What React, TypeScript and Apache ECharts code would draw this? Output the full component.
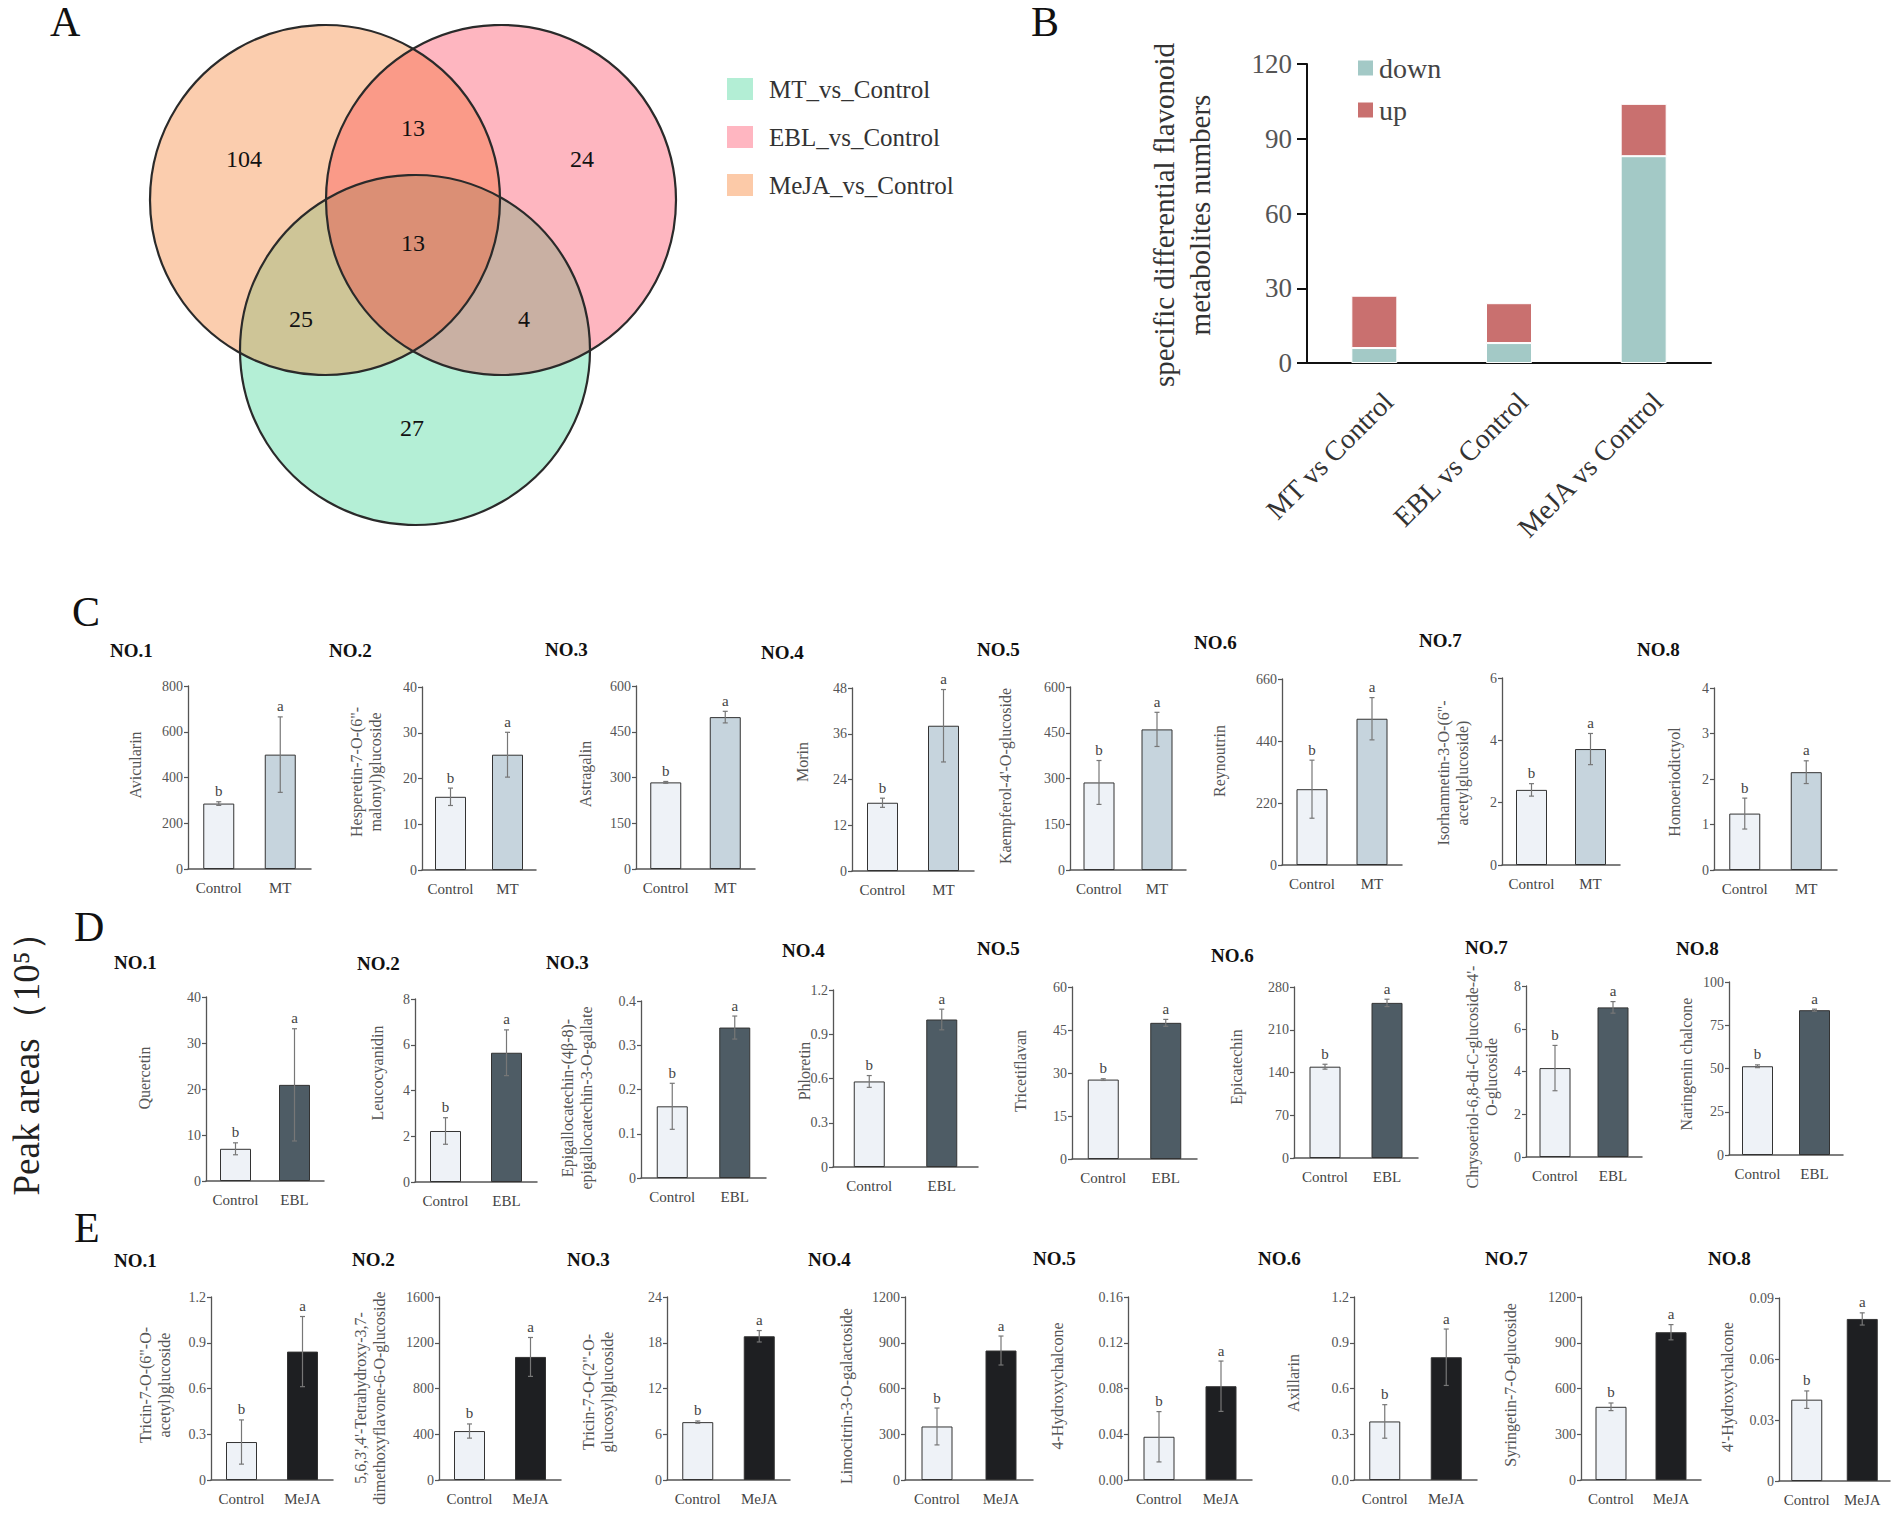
import React, { useEffect, useRef } from "react";
import * as echarts from "echarts";

// ---------------- Panel A : Venn ----------------
const vennLegendNames = ["MT_vs_Control", "EBL_vs_Control", "MeJA_vs_Control"];
const vennLegendColors = ["#b3eed5", "#ffb6c1", "#fccaa8"];
// MeJA only, EBL only, MT only, MeJA∩EBL, MeJA∩EBL∩MT, MeJA∩MT, EBL∩MT
const vennRegionCounts = ["104", "24", "27", "13", "13", "25", "4"];

// ---------------- Panel B ----------------
const bCategories = ["MT vs Control", "EBL vs Control", "MeJA vs Control"];
const bDown = [6, 8, 83];
const bUp = [21, 16, 21];
const bMax = 120;
const bInterval = 30;

// ---------------- Panels C, D, E ----------------
const sigLetters = ["b", "a"];

const C_names = ["Avicularin", "Hesperetin-7-O-(6\"-\nmalonyl)glucoside", "Astragalin", "Morin", "Kaempferol-4'-O-glucoside", "Reynoutrin", "Isorhamnetin-3-O-(6\"-\nacetylglucoside)", "Homoeriodictyol"];
const C_ctrl = [286, 16.0, 284, 17.9, 287, 269, 2.41, 1.24];
const C_ctrlErr = [8, 1.9, 3, 1.2, 72, 103, 0.2, 0.34];
const C_trt = [500, 25.2, 498, 38.1, 461, 519, 3.72, 2.15];
const C_trtErr = [165, 4.9, 19, 9.5, 56, 75, 0.5, 0.25];
const C_max = [800, 40, 600, 48, 600, 660, 6, 4];
const C_interval = [200, 10, 150, 12, 150, 220, 2, 1];
const C_dec = [-1, -1, -1, -1, -1, -1, -1, -1];

const D_names = ["Quercetin", "Leucocyanidin", "Epigallocatechin-(4β-8)-\nepigallocatechin-3-O-gallate", "Phloretin", "Tricetiflavan", "Epicatechin", "Chrysoeriol-6,8-di-C-glucoside-4'-\nO-glucoside", "Naringenin chalcone"];
const D_ctrl = [7.0, 2.23, 0.162, 0.58, 27.7, 149.5, 4.16, 51.3];
const D_ctrlErr = [1.3, 0.58, 0.052, 0.04, 0.3, 4, 1.06, 0.8];
const D_trt = [20.9, 5.65, 0.34, 1.0, 47.5, 254, 7.0, 83.7];
const D_trtErr = [12.2, 1.0, 0.026, 0.07, 1.2, 6, 0.27, 0.6];
const D_max = [40, 8, 0.4, 1.2, 60, 280, 8, 100];
const D_interval = [10, 2, 0.1, 0.3, 15, 70, 2, 25];
const D_dec = [-1, -1, -1, -1, -1, -1, -1, -1];

const E_names = ["Tricin-7-O-(6\"-O-\nacetyl)glucoside", "5,6,3',4'-Tetrahydroxy-3,7-\ndimethoxyflavone-6-O-glucoside", "Tricin-7-O-(2\"-O-\nglucosyl)glucoside", "Limocitrin-3-O-galactoside", "4-Hydroxychalcone", "Axillarin", "Syringetin-7-O-glucoside", "4'-Hydroxychalcone"];
const E_ctrl = [0.249, 428, 7.59, 351, 0.0378, 0.384, 480, 0.04];
const E_ctrlErr = [0.145, 62, 0.15, 121, 0.022, 0.11, 25, 0.0043];
const E_trt = [0.842, 1076, 18.85, 849, 0.082, 0.805, 969, 0.0797];
const E_trtErr = [0.23, 170, 0.75, 95, 0.022, 0.185, 50, 0.003];
const E_max = [1.2, 1600, 24, 1200, 0.16, 1.2, 1200, 0.09];
const E_interval = [0.3, 400, 6, 300, 0.04, 0.3, 300, 0.03];
const E_dec = [-1, -1, -1, -1, 2, 1, -1, -1];

// ---------------- Layout (pixels) ----------------
const FONT = "'Liberation Serif', 'Times New Roman', serif";
const VENN = [
  [325, 200, 175], // MeJA
  [501, 200, 175], // EBL
  [415, 350, 175], // MT
];
const vennSingleColors = ["#fbcdae", "#feb6c0", "#b4efd6"];
const vennLabelPos = [[244, 159], [582, 159], [412, 428], [413, 128], [413, 243], [301, 319], [524, 319]];

// [left(y-axis x), right, top(max tick y), zero y]
const C_grid = [[188, 311, 686, 869], [422, 536, 687, 870], [636, 755, 686, 869], [852, 974, 688, 871], [1070, 1186, 687, 870], [1282, 1402, 679, 865], [1502, 1620, 678, 865], [1714, 1837, 688, 870]];
const D_grid = [[206, 324, 997, 1181], [415, 537, 999, 1182], [641, 766, 1001, 1178], [833, 978, 990, 1167], [1072, 1197, 987, 1159], [1294, 1418, 987, 1158], [1526, 1642, 986, 1157], [1729, 1843, 982, 1155]];
const E_grid = [[211, 333, 1297, 1480], [439, 561, 1297, 1480], [667, 790, 1297, 1480], [905, 1033, 1297, 1480], [1128, 1252, 1297, 1480], [1354, 1477, 1297, 1480], [1581, 1701, 1297, 1480], [1779, 1890, 1298, 1481]];
const C_no = [[110, 650], [329, 650], [545, 649], [761, 652], [977, 649], [1194, 642], [1419, 640], [1637, 649]];
const D_no = [[114, 962], [357, 963], [546, 962], [782, 950], [977, 948], [1211, 955], [1465, 947], [1676, 948]];
const E_no = [[114, 1260], [352, 1259], [567, 1259], [808, 1259], [1033, 1258], [1258, 1258], [1485, 1258], [1708, 1258]];
const C_lab = [[135, 765], [366, 772], [585, 774], [802, 762], [1005, 776], [1219, 761], [1453, 773], [1674, 782]];
const D_lab = [[144, 1078], [377, 1073], [577, 1098], [804, 1071], [1020, 1071], [1236, 1067], [1482, 1077], [1686, 1064]];
const E_lab = [[155, 1385], [370, 1398], [598, 1392], [846, 1396], [1057, 1386], [1293, 1383], [1510, 1385], [1727, 1387]];

function diskIntersection(circles: number[][]) {
  const pts: number[][] = [];
  circles.forEach((c, i) => {
    const n = 720;
    for (let k = 0; k < n; k++) {
      const a = (k / n) * Math.PI * 2;
      const p = [c[0] + c[2] * Math.cos(a), c[1] + c[2] * Math.sin(a)];
      const inside = circles.every((d, j) => j === i || Math.hypot(p[0] - d[0], p[1] - d[1]) <= d[2] + 0.01);
      if (inside) pts.push(p);
    }
  });
  const cx = pts.reduce((s, p) => s + p[0], 0) / pts.length;
  const cy = pts.reduce((s, p) => s + p[1], 0) / pts.length;
  pts.sort((p, q) => Math.atan2(p[1] - cy, p[0] - cx) - Math.atan2(q[1] - cy, q[0] - cx));
  return pts;
}

function plainNumber(v: number) {
  return String(parseFloat(v.toFixed(6)));
}

function buildOption() {
  const grid: any[] = [];
  const xAxis: any[] = [];
  const yAxis: any[] = [];
  const series: any[] = [];
  const graphic: any[] = [];

  // ---- Venn ----
  VENN.forEach((c, i) => {
    graphic.push({ type: "circle", shape: { cx: c[0], cy: c[1], r: c[2] }, style: { fill: vennSingleColors[i] }, z: 1 });
  });
  const pairs = [[0, 1, "#fa9a88"], [0, 2, "#cec597"], [1, 2, "#c9b0a3"]] as any[];
  pairs.forEach((p) => {
    graphic.push({ type: "polygon", shape: { points: diskIntersection([VENN[p[0]], VENN[p[1]]]) }, style: { fill: p[2] }, z: 2 });
  });
  graphic.push({ type: "polygon", shape: { points: diskIntersection(VENN) }, style: { fill: "#db8f75" }, z: 3 });
  VENN.forEach((c) => {
    graphic.push({ type: "circle", shape: { cx: c[0], cy: c[1], r: c[2] }, style: { fill: "none", stroke: "#2a2a2a", lineWidth: 2.2 }, z: 4 });
  });
  vennRegionCounts.forEach((t, i) => {
    graphic.push({ type: "text", x: vennLabelPos[i][0], y: vennLabelPos[i][1], z: 5, style: { text: t, fontSize: 24, fontFamily: FONT, fill: "#111", textAlign: "center", textVerticalAlign: "middle" } });
  });
  const legY = [89, 137, 185];
  vennLegendNames.forEach((n, i) => {
    graphic.push({ type: "rect", shape: { x: 727, y: legY[i] - 11, width: 26, height: 22 }, style: { fill: vennLegendColors[i] }, z: 5 });
    graphic.push({ type: "text", x: 769, y: legY[i], z: 5, style: { text: n, fontSize: 25, fontFamily: FONT, fill: "#333", textAlign: "left", textVerticalAlign: "middle" } });
  });

  // ---- Panel letters ----
  const letters = [["A", 50, 22], ["B", 1031, 22], ["C", 72, 612], ["D", 74, 927], ["E", 74, 1228]] as any[];
  letters.forEach((l) => {
    graphic.push({ type: "text", x: l[1], y: l[2], style: { text: l[0], fontSize: 42, fontFamily: FONT, fill: "#111", textAlign: "left", textVerticalAlign: "middle" } });
  });
  graphic.push({ type: "text", x: 26, y: 1055, rotation: Math.PI / 2, style: { text: "Peak areas（10⁵）", fontSize: 37, fontFamily: FONT, fill: "#222", textAlign: "center", textVerticalAlign: "middle" } });

  // ---- Panel B ----
  grid.push({ left: 1307, top: 64, width: 404, height: 299 });
  xAxis.push({
    type: "category", gridIndex: 0, data: bCategories,
    axisLine: { show: true, lineStyle: { color: "#111", width: 2 } },
    axisTick: { show: false },
    axisLabel: { show: false },
  });
  yAxis.push({
    type: "value", gridIndex: 0, min: 0, max: bMax, interval: bInterval,
    axisLine: { show: true, lineStyle: { color: "#111", width: 2 } },
    axisTick: { show: true, length: 10, lineStyle: { color: "#111", width: 2 } },
    axisLabel: { fontSize: 27, color: "#555", margin: 15, fontFamily: FONT },
    splitLine: { show: false },
  });
  // label-only companion axis for panel B (category labels sit slightly right of the bars)
  grid.push({ left: 1321, top: 64, width: 404, height: 299 });
  xAxis.push({
    type: "category", gridIndex: 1, data: bCategories,
    axisLine: { show: false }, axisTick: { show: false },
    axisLabel: { rotate: 45, interval: 0, fontSize: 28, color: "#333", margin: 34, fontFamily: FONT },
  });
  yAxis.push({ type: "value", gridIndex: 1, show: false, min: 0, max: bMax });
  series.push({ name: "down", type: "bar", stack: "b", xAxisIndex: 0, yAxisIndex: 0, data: bDown, barWidth: 46, itemStyle: { color: "#a3c9c6", borderColor: "#fff", borderWidth: 1 } });
  series.push({ name: "up", type: "bar", stack: "b", xAxisIndex: 0, yAxisIndex: 0, data: bUp, barWidth: 46, itemStyle: { color: "#c9706f", borderColor: "#fff", borderWidth: 1 } });
  graphic.push({ type: "text", x: 1182, y: 215, rotation: Math.PI / 2, style: { text: "specific differential flavonoid\nmetabolites numbers", fontSize: 29, lineHeight: 36, fontFamily: FONT, fill: "#333", textAlign: "center", textVerticalAlign: "middle" } });

  // ---- Panels C, D, E ----
  const rows = [
    { treat: "MT", color: "#c6d4dd", names: C_names, ctrl: C_ctrl, ctrlErr: C_ctrlErr, trt: C_trt, trtErr: C_trtErr, max: C_max, interval: C_interval, dec: C_dec, g: C_grid, no: C_no, lab: C_lab },
    { treat: "EBL", color: "#4e5c65", names: D_names, ctrl: D_ctrl, ctrlErr: D_ctrlErr, trt: D_trt, trtErr: D_trtErr, max: D_max, interval: D_interval, dec: D_dec, g: D_grid, no: D_no, lab: D_lab },
    { treat: "MeJA", color: "#1e1f22", names: E_names, ctrl: E_ctrl, ctrlErr: E_ctrlErr, trt: E_trt, trtErr: E_trtErr, max: E_max, interval: E_interval, dec: E_dec, g: E_grid, no: E_no, lab: E_lab },
  ];

  rows.forEach((r) => {
    for (let i = 0; i < 8; i++) {
      const gi = grid.length;
      const [L, R, T, Z] = r.g[i];
      grid.push({ left: L, top: T, width: R - L, height: Z - T });
      xAxis.push({
        type: "category", gridIndex: gi, data: ["Control", r.treat],
        axisLine: { show: true, lineStyle: { color: "#555", width: 1.5 } },
        axisTick: { show: false },
        axisLabel: { interval: 0, hideOverlap: false, fontSize: 15, color: "#444", margin: 11, fontFamily: FONT },
      });
      const dec = r.dec[i];
      yAxis.push({
        type: "value", gridIndex: gi, min: 0, max: r.max[i], interval: r.interval[i],
        axisLine: { show: true, lineStyle: { color: "#555", width: 1.3 } },
        axisTick: { show: true, length: 4, lineStyle: { color: "#555", width: 1.2 } },
        axisLabel: { fontSize: 14, color: "#555", margin: 5, fontFamily: FONT, formatter: (v: number) => (dec >= 0 ? v.toFixed(dec) : plainNumber(v)) },
        splitLine: { show: false },
      });
      series.push({
        type: "bar", xAxisIndex: gi, yAxisIndex: gi, barWidth: 31, z: 2,
        data: [
          { value: r.ctrl[i], itemStyle: { color: "#eef2f7" } },
          { value: r.trt[i], itemStyle: { color: r.color } },
        ],
        itemStyle: { borderColor: "#333", borderWidth: 1 },
      });
      const means = [r.ctrl[i], r.trt[i]];
      const errs = [r.ctrlErr[i], r.trtErr[i]];
      series.push({
        type: "custom", xAxisIndex: gi, yAxisIndex: gi, clip: false, z: 5,
        data: means.map((m, k) => [k, m, errs[k]]),
        renderItem: (params: any, api: any) => {
          const x = api.value(0);
          const m = api.value(1);
          const e = api.value(2);
          const top = api.coord([x, m + e]);
          const bot = api.coord([x, m - e]);
          const cx = top[0];
          const ls = { stroke: "#777", lineWidth: 1.2 };
          return {
            type: "group",
            children: [
              { type: "line", shape: { x1: cx, y1: top[1], x2: cx, y2: bot[1] }, style: ls },
              { type: "line", shape: { x1: cx - 2.5, y1: top[1], x2: cx + 2.5, y2: top[1] }, style: ls },
              { type: "line", shape: { x1: cx - 2.5, y1: bot[1], x2: cx + 2.5, y2: bot[1] }, style: ls },
              { type: "text", x: cx, y: top[1] - 3, style: { text: sigLetters[params.dataIndex], fontSize: 15, fontFamily: FONT, fill: "#444", textAlign: "center", textVerticalAlign: "bottom" } },
            ],
          };
        },
      });
      graphic.push({ type: "text", x: r.no[i][0], y: r.no[i][1], style: { text: "NO." + (i + 1), fontSize: 19, fontWeight: "bold", fontFamily: FONT, fill: "#111", textAlign: "left", textVerticalAlign: "middle" } });
      graphic.push({ type: "text", x: r.lab[i][0], y: r.lab[i][1], rotation: Math.PI / 2, style: { text: r.names[i], fontSize: 16, lineHeight: 19, fontFamily: FONT, fill: "#555", textAlign: "center", textVerticalAlign: "middle" } });
    }
  });

  return {
    animation: false,
    backgroundColor: "#fff",
    textStyle: { fontFamily: FONT },
    legend: {
      data: ["down", "up"], orient: "vertical", left: 1351, top: 49, itemWidth: 17, itemHeight: 17, itemGap: 14,
      icon: "rect", textStyle: { fontSize: 28, color: "#444", fontFamily: FONT },
    },
    grid, xAxis, yAxis, series, graphic,
  };
}

export default function App() {
  const ref = useRef<HTMLDivElement>(null);
  useEffect(() => {
    document.body.style.margin = "0";
    const chart = echarts.init(ref.current as HTMLDivElement, null, { renderer: "svg" });
    chart.setOption(buildOption() as any);
    return () => chart.dispose();
  }, []);
  return <div ref={ref} style={{ width: 1901, height: 1515, background: "#fff" }} />;
}
